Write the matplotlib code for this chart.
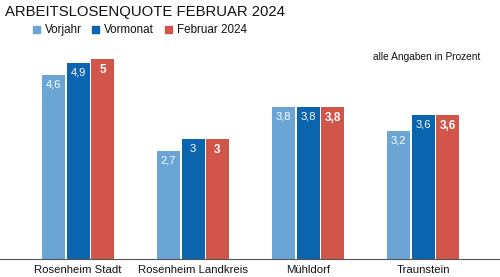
import matplotlib
matplotlib.use("Agg")
import matplotlib.pyplot as plt
import numpy as np

# Data
regions = ["Rosenheim Stadt", "Rosenheim Landkreis", "Mühldorf", "Traunstein"]
vorjahr = [4.6, 2.7, 3.8, 3.2]
vormonat = [4.9, 3.0, 3.8, 3.6]
februar = [5.0, 3.0, 3.8, 3.6]
series_names = ["Vorjahr", "Vormonat", "Februar 2024"]
colors = ["#6aa5d6", "#0b64ae", "#d2554a"]

plt.rcParams["font.family"] = ["Liberation Sans", "DejaVu Sans"]

W, H = 500, 277
fig = plt.figure(figsize=(W / 100, H / 100), dpi=100)
fig.patch.set_facecolor("white")

# axes: bottom at y=259px, top at y=40px
ax = fig.add_axes([0, 1 - 259 / H, 1, (259 - 40) / H])
ax.set_ylim(0, 219 / 40)
ax.set_xlim(-78 / 115, (500 - 78) / 115)

x = np.arange(len(regions))
width = 23 / 115
step = 24.5 / 115
all_series = [vorjahr, vormonat, februar]

for i, (vals, col) in enumerate(zip(all_series, colors)):
    xs = x + (i - 1) * step
    ax.bar(xs, vals, width, color=col, linewidth=0)
    for xi, v in zip(xs, vals):
        txt = f"{v:g}".replace(".", ",")
        ax.text(xi, v - 0.12, txt, ha="center", va="top", color="white",
                fontsize=8 if i < 2 else 8.5,
                fontweight="bold" if i == 2 else "normal")

for s in ["top", "right", "left"]:
    ax.spines[s].set_visible(False)
ax.spines["bottom"].set_color("#555555")
ax.spines["bottom"].set_linewidth(0.8)
ax.set_yticks([])
ax.set_xticks(x)
ax.set_xticklabels(regions, fontsize=8.2, color="#111111")
ax.tick_params(axis="x", length=0, pad=4)

# Title
fig.text(5 / W, 1 - 12 / H, "ARBEITSLOSENQUOTE FEBRUAR 2024", fontsize=10.7,
         ha="left", va="center", color="#111111")

# Legend
lx = [33, 92, 165]
for name, col, px in zip(series_names, colors, lx):
    fig.patches.append(plt.Rectangle((px / W, 1 - 33.5 / H), 7 / W, 7 / H,
                                     transform=fig.transFigure, color=col))
    fig.text((px + 12) / W, 1 - 30 / H, name, fontsize=8.4, ha="left",
             va="center", color="#111111")

fig.text(480 / W, 1 - 57 / H, "alle Angaben in Prozent", fontsize=7.3,
         ha="right", va="center", color="#111111")

fig.savefig("out.png", dpi=100, facecolor="white")
